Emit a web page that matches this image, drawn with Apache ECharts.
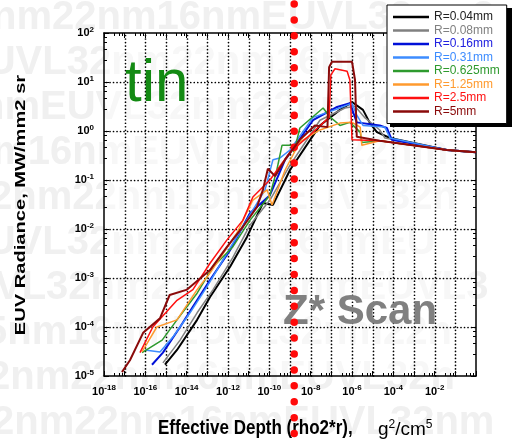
<!DOCTYPE html>
<html>
<head>
<meta charset="utf-8">
<script src="https://cdn.jsdelivr.net/npm/echarts@6/dist/echarts.min.js"></script>
<style>
  html, body { margin: 0; padding: 0; background: #ffffff; }
  #chart { width: 512px; height: 442px; }
</style>
</head>
<body>
<div id="chart"></div>
<script>
// Series names and colours (target radius)
const radiusNames  = ['R=0.04mm', 'R=0.08mm', 'R=0.16mm', 'R=0.31mm', 'R=0.625mm', 'R=1.25mm', 'R=2.5mm', 'R=5mm'];
const radiusColors = ['#000000', '#808080', '#0010d8', '#3d8cff', '#2e9a2e', '#ff9a2e', '#ff1010', '#8a0a0a'];
const labelColors  = ['#222222', '#808080', '#2020e0', '#3d8cff', '#2e9a2e', '#ff9a2e', '#ff1010', '#8a0a0a'];
const lineWidths   = [2, 1.5, 2, 1.5, 1.5, 1.5, 1.5, 2];

// Effective depth rho2*r (g^2/cm^5) vs EUV radiance (MW/mm2 sr)
const r004 = [[8.9e-16,1.7e-5],[3.4e-15,3.4e-5],[3.2e-14,1.4e-4],[1.35e-13,4.1e-4],[1.26e-12,1.7e-3],[8.3e-12,6.9e-3],[4.9e-11,3.4e-2],[1.5e-10,3.1e-2],[1.0e-9,0.16],[2.8e-8,1.3],[2.6e-7,2.7],[1.0e-6,3.9],[3.4e-6,2.7],[7.4e-6,1.45],[1.6e-5,0.95],[6.9e-5,0.72],[0.039,0.41],[1,0.37]];
const r008 = [[7.1e-16,1.85e-5],[4.8e-15,5.4e-5],[3.2e-14,1.95e-4],[1.9e-13,5.8e-4],[1.7e-12,2.6e-3],[1.15e-11,1.2e-2],[1.07e-10,3.9e-2],[1.0e-9,0.2],[2.8e-8,1.66],[4.6e-7,2.95],[1.4e-6,3.2],[4.3e-6,1.85],[2.2e-5,1.05],[3.9e-5,0.72],[0.039,0.41],[1,0.37]];
const r016 = [[2.1e-16,1.7e-5],[7.1e-16,3.0e-5],[4.8e-15,1.0e-4],[2.0e-14,2.6e-4],[1.35e-13,9.1e-4],[1.26e-12,3.7e-3],[1.15e-11,2.1e-2],[1.07e-10,4.9e-2],[5.8e-10,0.26],[1.3e-8,1.66],[1.9e-7,3.1],[7.9e-7,3.7],[1.7e-6,1.5],[2.2e-5,1.3],[4.9e-5,1.15],[8.5e-5,0.66],[0.039,0.41],[1,0.37]];
const r031 = [[9.5e-17,3.4e-5],[5.1e-16,3.1e-5],[2.2e-15,6.3e-5],[1.45e-14,1.95e-4],[9.5e-14,6.6e-4],[8.9e-13,3.2e-3],[1.15e-11,1.95e-2],[6.2e-11,6.3e-2],[1.5e-10,0.26],[3.2e-10,0.28],[1.0e-9,0.41],[1.3e-8,1.9],[2.6e-7,2.95],[1.0e-6,3.7],[1.7e-6,2.1],[3.4e-6,1.3],[3.9e-5,1.2],[6.9e-5,0.72],[0.039,0.41],[1,0.37]];
const r0625 = [[6.9e-17,3.0e-5],[6.5e-16,5.4e-5],[3.4e-15,1.4e-4],[3.2e-14,4.9e-4],[1.9e-13,1.7e-3],[1.7e-12,4.3e-3],[1.15e-11,1.5e-2],[1.07e-10,4.9e-2],[2.3e-10,0.16],[4.1e-10,0.51],[1.26e-9,0.51],[1.55e-9,0.37],[3.0e-9,1.15],[4.0e-8,2.95],[8.5e-8,1.95],[2.6e-7,1.3],[7.9e-7,1.5],[2.5e-6,0.95],[3.0e-6,0.58],[2.2e-5,0.63],[0.039,0.41],[1,0.37]];
const r125 = [[6.9e-17,3.1e-5],[3.6e-16,1.0e-4],[3.4e-15,1.4e-4],[3.2e-14,5.8e-4],[1.35e-13,1.26e-3],[2.7e-12,8.3e-3],[1.6e-11,3.9e-2],[7.8e-11,6.3e-2],[1.35e-10,3.1e-2],[5.8e-10,0.16],[3.0e-9,0.6],[2.8e-8,1.05],[2.6e-7,1.45],[1.0e-6,1.5],[2.5e-6,1.2],[3.0e-6,0.51],[2.2e-5,0.63],[0.039,0.41],[1,0.37]];
const r25 = [[5.5e-17,3.0e-5],[2.3e-16,1.0e-4],[3.4e-15,3.5e-4],[2.0e-14,5.8e-4],[1.35e-13,2.0e-3],[8.9e-13,6.0e-3],[5.2e-12,1.5e-2],[1.6e-11,4.5e-2],[1.07e-10,0.1],[1.0e-9,0.37],[9.3e-9,0.83],[7.8e-8,1.9],[9.5e-8,14],[1.5e-7,18.6],[5.8e-7,16.6],[7.9e-7,11],[1.0e-6,0.66],[2.2e-5,0.63],[0.039,0.41],[1,0.37]];
const r5 = [[7.4e-18,1.2e-5],[1.8e-17,2.1e-5],[7.8e-17,7.6e-5],[5.1e-16,1.5e-4],[1.5e-15,4.5e-4],[1.05e-14,5.8e-4],[1.35e-13,1.45e-3],[8.9e-13,4.3e-3],[5.2e-12,1.1e-2],[2.5e-11,2.8e-2],[4.9e-11,6.3e-2],[8.5e-11,0.17],[1.9e-10,0.12],[5.8e-10,0.26],[3.0e-9,0.66],[1.6e-8,1.3],[6.5e-8,1.2],[7.8e-8,20],[1.07e-7,26],[1.0e-6,26],[1.4e-6,11],[1.7e-6,0.76],[2.2e-5,0.63],[0.039,0.41],[1,0.37]];
const radiusData = [r004, r008, r016, r031, r0625, r125, r25, r5];

// Axis ranges, labelled decades and dotted grid decades
const depthMin = 1e-18, depthMax = 1;
const radianceMin = 1e-5, radianceMax = 1e2;
const depthLabelExps = [-18, -16, -14, -12, -10, -8, -6, -4, -2];
const radianceLabelExps = [-5, -4, -3, -2, -1, 0, 1, 2];
const depthGridExps = [-17, -16, -15, -14, -13, -12, -11, -10, -9, -8, -7, -6, -5, -4, -3, -2, -1];
const radianceGridExps = [-4, -3, -2, -1, 0, 1];

// Z* scan position (vertical dotted marker)
const zScanDepth = 1.6e-9;

// Faint background lettering
const watermarkRows = [
  [-8, 18, 'nm22nm16nmEUVL32nm2'],
  [-40, 63, 'EUVL32nm22nm16nmEUVL'],
  [-20, 108, 'nmEUVL32nm22nm16nm'],
  [-30, 153, '1m16nmEUVL32nm22nm'],
  [-10, 198, '2nm22nm16nmEUVL32n'],
  [-40, 243, 'EUVL32nm22nm16nmEU'],
  [-5, 288, 'VL32nm22nm16nmEUVL3'],
  [-15, 333, '5nm16nmEUVL32nm22n'],
  [-12, 378, '2nm22nm16nmEUVL32n'],
  [-8, 423, '2nm22nm16nmEUVL32nm']
];

const FONT = '"Liberation Sans", Arial, sans-serif';

function expLabel(list) {
  return function (v) {
    const e = Math.round(Math.log10(v));
    return list.indexOf(e) >= 0 ? '{b|10}{e|' + e + '}' : '';
  };
}
const labelRich = {
  b: { fontSize: 11, fontWeight: 'bold', color: '#000', fontFamily: FONT },
  e: { fontSize: 8, fontWeight: 'bold', color: '#000', fontFamily: FONT, padding: [0, 0, 7, 0] }
};

const frameLine = { show: true, onZero: false, lineStyle: { color: '#000', width: 1.5 } };

function logAxis(min, max, extra) {
  return Object.assign({
    type: 'log', logBase: 10, min: min, max: max, interval: 1,
    axisLine: frameLine,
    axisTick: { show: true, inside: true, length: 5, lineStyle: { color: '#000', width: 1 } },
    minorTick: { show: true, splitNumber: 4, length: 3, lineStyle: { color: '#000', width: 1 } },
    splitLine: { show: false },
    minorSplitLine: { show: false }
  }, extra);
}

const chart = echarts.init(document.getElementById('chart'), null, { renderer: 'canvas' });

const curveSeries = radiusData.map((d, i) => ({
  name: radiusNames[i],
  type: 'line',
  data: d,
  xAxisIndex: 0, yAxisIndex: 0,
  symbol: 'none', showSymbol: false,
  color: radiusColors[i],
  lineStyle: { color: radiusColors[i], width: lineWidths[i] },
  z: 3 + i,
  silent: true
}));

const option = {
  animation: false,
  backgroundColor: '#ffffff',
  grid: { left: 104, right: 36, top: 33, bottom: 66, containLabel: false },
  legend: {
    orient: 'vertical', left: 387, top: 5,
    padding: [6, 7, 6, 6],
    itemWidth: 36, itemHeight: 2.5, itemGap: 1.5,
    icon: 'rect',
    backgroundColor: '#ffffff', borderColor: '#000', borderWidth: 1,
    textStyle: { fontSize: 12, lineHeight: 12, fontFamily: FONT },
    data: radiusNames.map((n, i) => ({ name: n, textStyle: { color: labelColors[i] } })),
    z: 10
  },
  xAxis: [
    logAxis(depthMin, depthMax, {
      position: 'bottom', z: 2,
      axisLabel: { margin: 8, formatter: expLabel(depthLabelExps), rich: labelRich, showMinLabel: true, showMaxLabel: true }
    }),
    logAxis(depthMin, depthMax, {
      position: 'top', axisLabel: { show: false }
    })
  ],
  yAxis: [
    logAxis(radianceMin, radianceMax, {
      position: 'left', z: 2,
      minorTick: { show: true, splitNumber: 5, length: 3, lineStyle: { color: '#000', width: 1 } },
      axisLabel: { margin: 10, formatter: expLabel(radianceLabelExps), rich: labelRich }
    }),
    logAxis(radianceMin, radianceMax, {
      position: 'right',
      minorTick: { show: true, splitNumber: 5, length: 3, lineStyle: { color: '#000', width: 1 } },
      axisLabel: { show: false }
    })
  ],
  series: curveSeries
};
chart.setOption(option);

// decade positions from the chart's own scales; plot rectangle from the grid
const toX = v => chart.convertToPixel({ xAxisIndex: 0 }, v);
const toY = v => chart.convertToPixel({ yAxisIndex: 0 }, v);
const plotRect = chart.getModel().getComponent('grid', 0).coordinateSystem.getRect();
const plotLeft = plotRect.x, plotTop = plotRect.y;
const plotRight = plotRect.x + plotRect.width, plotBottom = plotRect.y + plotRect.height;
const zx = toX(zScanDepth);

const gridDotStyle = () => ({ stroke: '#000000', lineWidth: 1.7, lineDash: [0.01, 3.5], lineCap: 'round' });

const graphics = [];
watermarkRows.forEach((r) => {
  graphics.push({
    type: 'text', x: r[0], y: r[1], z: -10, silent: true,
    style: { text: r[2], font: 'bold 40px ' + FONT, fill: '#f0f0f0', verticalAlign: 'middle' }
  });
});
// white plot face that dims the lettering inside the frame
graphics.push({ type: 'rect', z: -5, silent: true,
  shape: { x: plotLeft, y: plotTop, width: plotRect.width, height: plotRect.height },
  style: { fill: 'rgba(255,255,255,0.45)' } });
// dotted decade grid
depthGridExps.forEach(e => {
  const x = Math.round(toX(Math.pow(10, e))) + 0.5;
  graphics.push({ type: 'line', z: 2, silent: true,
    shape: { x1: x, y1: plotTop + 2.5, x2: x, y2: plotBottom }, style: gridDotStyle() });
});
radianceGridExps.forEach(e => {
  const y = Math.round(toY(Math.pow(10, e))) + 0.5;
  graphics.push({ type: 'line', z: 2, silent: true,
    shape: { x1: plotLeft + 2.5, y1: y, x2: plotRight, y2: y }, style: gridDotStyle() });
});
graphics.push(
  // legend drop shadow
  { type: 'rect', z: 5, shape: { x: 390, y: 8, width: 122, height: 119 }, style: { fill: '#000' }, silent: true },
  { type: 'text', x: 125, y: 84, z: 8,
    style: { text: 'tin', font: '60px ' + FONT, fill: '#138a13', verticalAlign: 'middle' } },
  { type: 'text', x: 283, y: 312, z: 8,
    style: { text: 'Z* Scan', font: 'bold 42px ' + FONT, fill: '#808080', verticalAlign: 'middle' } },
  { type: 'line', z: 9, silent: true,
    shape: { x1: zx, y1: 4, x2: zx, y2: 442 },
    style: { stroke: '#ff0a0a', lineWidth: 7.5, lineDash: [0.01, 15.9], lineCap: 'round' } },
  { type: 'text', x: 21, y: 205, rotation: Math.PI / 2, scaleX: 1.34, z: 8,
    style: { text: 'EUV Radiance, MW/mm2 sr', font: 'bold 15px ' + FONT, fill: '#000', align: 'center', verticalAlign: 'middle' } },
  { type: 'text', x: 158, y: 428, scaleX: 0.81, z: 8,
    style: { text: 'Effective Depth (rho2*r),', font: 'bold 21px ' + FONT, fill: '#000', verticalAlign: 'middle' } },
  { type: 'text', x: 378, y: 430, z: 8,
    style: {
      text: 'g{s|2}/cm{s|5}', font: '19px ' + FONT, fill: '#000', verticalAlign: 'middle',
      rich: { s: { fontSize: 12, fontFamily: FONT, fill: '#000', padding: [0, 0, 10, 0] } }
    } }
);
chart.setOption({ graphic: graphics });
</script>
</body>
</html>
